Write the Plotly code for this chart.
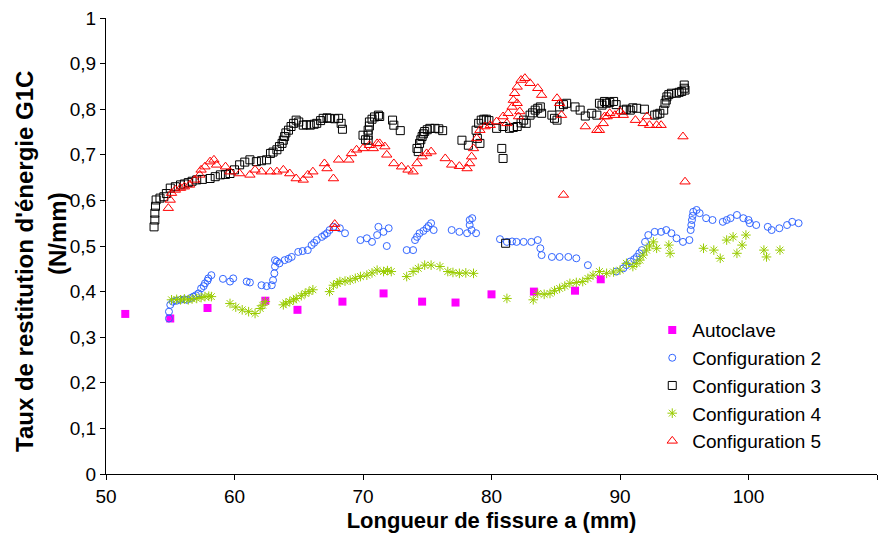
import plotly.graph_objects as go

# ---------------- data ----------------
autoclave_x = [51.5, 55.0, 57.9, 62.4, 64.9, 68.4, 71.6, 74.6, 77.2, 80.0, 83.3, 86.5, 88.5]
autoclave_y = [0.351, 0.341, 0.364, 0.380, 0.360, 0.378, 0.396, 0.378, 0.376, 0.394, 0.400, 0.402, 0.427]

config2_x = [54.9, 54.9, 55.0, 55.2, 55.5, 55.8, 56.1, 56.3, 56.6, 56.8, 57.0, 57.2, 57.4, 57.6, 57.7, 57.9, 57.96, 58.2,
             59.1, 59.65, 59.9, 60.95, 61.2, 62.1, 62.5, 62.9, 63.0, 63.1, 63.15, 63.15, 63.3, 63.5, 63.9, 64.2, 64.45, 64.96,
             65.3, 65.7, 66.0, 66.2, 66.4, 66.8, 67.0, 67.2, 67.4, 67.7, 68.2, 68.6,
             69.8, 70.3, 70.7, 71.1, 71.2, 71.6, 71.85, 72.0,
             73.4, 73.9, 74.05, 74.2, 74.4, 74.7, 74.95, 75.1, 75.3, 75.5,
             76.9, 77.5, 78.1, 78.3, 78.3, 78.45, 78.5, 78.8,
             80.66, 81.2, 81.6, 81.95, 82.5, 83.1, 83.6, 83.8, 83.9, 84.7, 85.3, 85.98, 86.6, 87.5,
             89.7, 90.26, 90.5, 90.8, 91.1, 91.3, 91.5, 91.7, 91.95, 92.2, 92.7, 93.2, 93.6, 94.0, 94.4, 94.9,
             95.4, 95.5, 95.55, 95.6, 95.65, 95.7, 95.96, 96.2, 96.7, 97.2,
             98.0, 98.3, 98.6, 99.1, 99.6, 100.0, 100.1, 100.6, 101.5, 101.8, 102.4, 103.0, 103.4, 103.9]
config2_y = [0.341, 0.356, 0.371, 0.378, 0.380, 0.382, 0.383, 0.382, 0.386, 0.389, 0.392, 0.396, 0.407, 0.412, 0.418, 0.424, 0.429, 0.436,
             0.428, 0.422, 0.429, 0.422, 0.420, 0.414, 0.412, 0.414, 0.425, 0.440, 0.455, 0.469, 0.466, 0.462, 0.469, 0.472, 0.476, 0.487,
             0.489, 0.491, 0.502, 0.507, 0.513, 0.520, 0.524, 0.528, 0.535, 0.542, 0.539, 0.528,
             0.513, 0.517, 0.509, 0.524, 0.542, 0.531, 0.500, 0.539,
             0.491, 0.491, 0.513, 0.520, 0.528, 0.533, 0.539, 0.544, 0.550, 0.535,
             0.535, 0.531, 0.528, 0.546, 0.557, 0.535, 0.561, 0.528,
             0.515, 0.509, 0.510, 0.509, 0.509, 0.509, 0.513, 0.495, 0.480, 0.476, 0.476, 0.476, 0.473, 0.458,
             0.444, 0.451, 0.458, 0.466, 0.471, 0.476, 0.484, 0.491, 0.509, 0.524, 0.531, 0.531, 0.535, 0.528, 0.517, 0.509,
             0.513, 0.535, 0.546, 0.557, 0.566, 0.575, 0.579, 0.572, 0.561, 0.557,
             0.553, 0.557, 0.561, 0.568, 0.561, 0.557, 0.550, 0.546, 0.542, 0.535, 0.539, 0.546, 0.553, 0.550]

config3_x = [53.74, 53.8, 53.8, 53.85, 53.9, 54.2, 54.5, 54.7, 55.0, 55.4, 55.8, 56.1, 56.4, 56.7, 57.06, 57.5, 58.1, 58.5,
             58.9, 59.3, 59.65, 60.0, 60.4, 60.8, 61.2, 61.7, 62.1, 62.5, 62.8, 63.0, 63.3, 63.5, 63.7, 63.8, 63.9, 64.0,
             64.2, 64.4, 64.6, 64.8, 65.0, 65.35, 65.6, 65.9, 66.2, 66.4, 66.7, 66.9, 67.2, 67.4, 67.8, 68.1, 68.3, 68.4,
             70.0, 70.2, 70.4, 70.4, 70.4, 70.5, 70.5, 70.7, 70.9, 71.2, 71.3, 72.3, 72.4, 72.9,
             74.2, 74.3, 74.4, 74.5, 74.6, 74.7, 74.8, 75.0, 75.2, 75.6, 75.9, 76.2,
             77.7, 78.2, 78.8, 78.9, 79.0, 79.1, 79.2, 79.4, 79.6, 79.8,
             80.4, 80.8, 80.9, 80.9, 81.1, 81.4, 81.7, 82.0, 82.3, 82.5, 82.7, 83.0, 83.2, 83.4, 83.6, 83.8, 83.9,
             84.7, 84.9, 85.1, 85.3, 85.6, 85.85, 86.5, 86.9, 87.3, 87.8, 88.2, 88.4, 88.6, 88.8, 88.95, 89.2, 89.5, 89.7,
             90.26, 90.5, 90.8, 91.0, 91.3, 91.9, 92.7, 92.9, 93.1, 93.4, 93.5, 93.6, 93.65, 93.8, 94.0, 94.4, 94.6, 94.8,
             95.0, 95.06, 95.0]
config3_y = [0.542, 0.557, 0.572, 0.587, 0.601, 0.605, 0.608, 0.615, 0.627, 0.630, 0.634, 0.636, 0.639, 0.642, 0.645, 0.646, 0.648, 0.652,
             0.656, 0.657, 0.659, 0.667, 0.678, 0.684, 0.689, 0.685, 0.687, 0.689, 0.703, 0.706, 0.711, 0.718, 0.725, 0.732, 0.740, 0.748,
             0.754, 0.762, 0.769, 0.776, 0.772, 0.765, 0.766, 0.765, 0.767, 0.769, 0.775, 0.780, 0.781, 0.780, 0.779, 0.780, 0.769, 0.756,
             0.743, 0.733, 0.732, 0.743, 0.754, 0.763, 0.772, 0.778, 0.783, 0.787, 0.784, 0.776, 0.765, 0.753,
             0.714, 0.707, 0.725, 0.733, 0.740, 0.746, 0.751, 0.755, 0.758, 0.758, 0.757, 0.753,
             0.732, 0.721, 0.754, 0.736, 0.769, 0.725, 0.776, 0.778, 0.778, 0.775,
             0.758, 0.714, 0.692, 0.762, 0.506, 0.758, 0.760, 0.762, 0.770, 0.776, 0.769, 0.787, 0.792, 0.798, 0.802, 0.805, 0.791,
             0.787, 0.780, 0.776, 0.805, 0.810, 0.813, 0.805, 0.798, 0.785, 0.791, 0.787, 0.813, 0.809, 0.817, 0.813, 0.815, 0.817, 0.810,
             0.798, 0.800, 0.798, 0.803, 0.802, 0.800, 0.787, 0.789, 0.791, 0.798, 0.813, 0.820, 0.827, 0.832, 0.835, 0.835, 0.837, 0.839,
             0.853, 0.842, 0.846]

config4_x = [55.1, 55.5, 55.8, 56.1, 56.4, 56.7, 57.06, 57.4, 57.7, 58.0, 58.2,
             59.65, 60.1, 60.6, 61.1, 61.6, 62.0, 62.2, 62.4,
             63.8, 64.0, 64.3, 64.6, 64.8, 65.2, 65.5, 65.8, 66.1,
             67.4, 67.7, 68.0, 68.2, 68.6, 69.0, 69.4, 69.8, 70.3, 70.7, 71.1, 71.6, 71.9, 72.2,
             73.4, 73.9, 74.3, 74.8, 75.3, 75.99, 76.6, 77.0, 77.5, 78.0, 78.6,
             81.2, 83.25, 83.6, 84.1, 84.55, 84.9, 85.3, 85.7, 86.1, 86.6, 87.1, 87.5, 87.9, 88.4, 88.96,
             89.5, 90.0, 90.5, 91.0, 91.3, 91.55, 91.8, 92.07, 92.3, 92.6, 92.85, 93.8, 93.9,
             96.5, 97.3, 97.8, 98.3, 98.8, 99.1, 99.5, 99.8, 101.2, 101.4, 102.45]
config4_y = [0.382, 0.383, 0.382, 0.384, 0.382, 0.384, 0.385, 0.387, 0.389, 0.390, 0.389,
             0.374, 0.366, 0.360, 0.356, 0.352, 0.363, 0.370, 0.378,
             0.371, 0.375, 0.378, 0.382, 0.385, 0.391, 0.396, 0.400, 0.404,
             0.400, 0.414, 0.418, 0.422, 0.423, 0.425, 0.429, 0.433, 0.436, 0.441, 0.447, 0.444, 0.446, 0.444,
             0.433, 0.444, 0.451, 0.458, 0.458, 0.455, 0.444, 0.442, 0.440, 0.441, 0.440,
             0.385, 0.382, 0.396, 0.394, 0.396, 0.402, 0.407, 0.412, 0.418, 0.420, 0.422, 0.429, 0.436, 0.444, 0.440,
             0.443, 0.447, 0.462, 0.455, 0.462, 0.469, 0.480, 0.491, 0.500, 0.509, 0.495, 0.502, 0.484,
             0.495, 0.491, 0.473, 0.513, 0.520, 0.484, 0.502, 0.524, 0.491, 0.476, 0.491]

config5_x = [54.85, 55.0, 55.1, 55.4, 55.8, 56.1, 56.5, 56.9, 57.3, 57.4, 57.7, 58.1, 58.4, 58.6, 59.3, 59.65, 60.4, 61.2,
             61.6, 62.1, 62.8, 63.3, 63.8, 64.3, 64.8, 65.35, 65.7, 66.1, 67.0, 67.2, 67.7, 67.8, 67.8, 68.1, 68.9, 69.1, 69.5, 70.0,
             70.5, 70.8, 71.1, 71.3, 71.7, 71.85, 72.4, 73.0, 73.5, 73.9, 74.2, 74.6, 74.95, 75.3,
             76.4, 76.9, 77.5, 78.1, 78.3, 78.45, 78.6, 78.85, 79.1, 79.5, 79.9, 80.4, 80.9, 81.2, 81.3, 81.6, 81.7, 81.8,
             82.0, 82.0, 82.1, 82.2, 82.3, 82.6, 83.0, 83.6, 83.9,
             85.1, 85.3, 85.45, 85.6, 87.3, 88.2, 88.4, 88.7, 88.8, 89.0, 89.2, 89.6, 90.0, 90.26,
             91.2, 91.8, 92.1, 92.3, 92.85, 93.2, 94.9, 95.06]
config5_y = [0.583, 0.601, 0.616, 0.623, 0.627, 0.630, 0.634, 0.645, 0.656, 0.667, 0.674, 0.685, 0.689, 0.678, 0.674, 0.663, 0.659, 0.656,
             0.667, 0.663, 0.663, 0.663, 0.667, 0.659, 0.648, 0.645, 0.656, 0.663, 0.681, 0.670, 0.648, 0.539, 0.548, 0.689, 0.689, 0.703, 0.711, 0.714,
             0.721, 0.714, 0.725, 0.725, 0.718, 0.700, 0.681, 0.674, 0.667, 0.663, 0.681, 0.696, 0.703, 0.707,
             0.692, 0.678, 0.675, 0.670, 0.681, 0.696, 0.714, 0.736, 0.754, 0.762, 0.765, 0.773, 0.784, 0.769, 0.791, 0.805, 0.820, 0.835,
             0.849, 0.813, 0.784, 0.795, 0.864, 0.868, 0.857, 0.846, 0.831,
             0.824, 0.813, 0.787, 0.612, 0.762, 0.754, 0.754, 0.769, 0.784, 0.784, 0.791, 0.787, 0.795, 0.787,
             0.776, 0.769, 0.784, 0.765, 0.765, 0.765, 0.740, 0.641]

x_ticks = [50, 60, 70, 80, 90, 100, 110]
y_ticks = [0, 0.1, 0.2, 0.3, 0.4, 0.5, 0.6, 0.7, 0.8, 0.9, 1]

FONT = "Liberation Sans, Arial, sans-serif"

fig = go.Figure()
fig.add_trace(go.Scatter(x=autoclave_x, y=autoclave_y, mode="markers", name="Autoclave",
                         marker=dict(symbol="square", size=8, color="#FF00FF")))
fig.add_trace(go.Scatter(x=config2_x, y=config2_y, mode="markers", name="Configuration 2",
                         marker=dict(symbol="circle-open", size=7, color="#3366FF", line=dict(width=1))))
fig.add_trace(go.Scatter(x=config3_x, y=config3_y, mode="markers", name="Configuration 3",
                         marker=dict(symbol="square-open", size=8, color="#000000", line=dict(width=1))))
fig.add_trace(go.Scatter(x=config4_x, y=config4_y, mode="markers", name="Configuration 4",
                         marker=dict(symbol="asterisk-open", size=8, color="#99CC00", line=dict(width=1))))
fig.add_trace(go.Scatter(x=config5_x, y=config5_y, mode="markers", name="Configuration 5",
                         marker=dict(symbol="triangle-up-open", size=9, color="#FF0000", line=dict(width=1))))

fig.update_layout(
    width=892, height=549,
    margin=dict(l=106, r=15, t=18, b=75),
    paper_bgcolor="white", plot_bgcolor="white",
    separators=", ",
    font=dict(family=FONT, size=19, color="black"),
    showlegend=True,
    legend=dict(x=0.7085, y=0.357, xanchor="left", yanchor="top",
                bgcolor="rgba(0,0,0,0)", font=dict(size=19), tracegroupgap=0),
    annotations=[
        dict(text="<b>Taux de restitution d'énergie G1C</b>", textangle=-90,
             xref="paper", yref="paper", x=(24 - 106) / 771, y=(474 - 262) / 456,
             xanchor="center", yanchor="middle", showarrow=False,
             font=dict(size=24, family=FONT, color="black")),
        dict(text="<b>(N/mm)</b>", textangle=-90,
             xref="paper", yref="paper", x=(57 - 106) / 771, y=(474 - 234) / 456,
             xanchor="center", yanchor="middle", showarrow=False,
             font=dict(size=24, family=FONT, color="black")),
    ],
)
fig.update_xaxes(range=[50, 110], tickvals=x_ticks, showline=True, linecolor="black", linewidth=1,
                 ticks="outside", ticklen=5, tickcolor="black", showgrid=False, zeroline=False,
                 automargin=False, tickfont=dict(size=19),
                 title=dict(text="<b>Longueur de fissure a (mm)</b>", font=dict(size=22), standoff=6))
fig.update_yaxes(range=[0, 1], tickvals=y_ticks, showline=True, linecolor="black", linewidth=1,
                 ticks="outside", ticklen=5, tickcolor="black", showgrid=False, zeroline=False,
                 automargin=False, tickfont=dict(size=19))

fig.write_html("out.html", config={"displayModeBar": False},
               post_script="document.body.style.margin='0';")
